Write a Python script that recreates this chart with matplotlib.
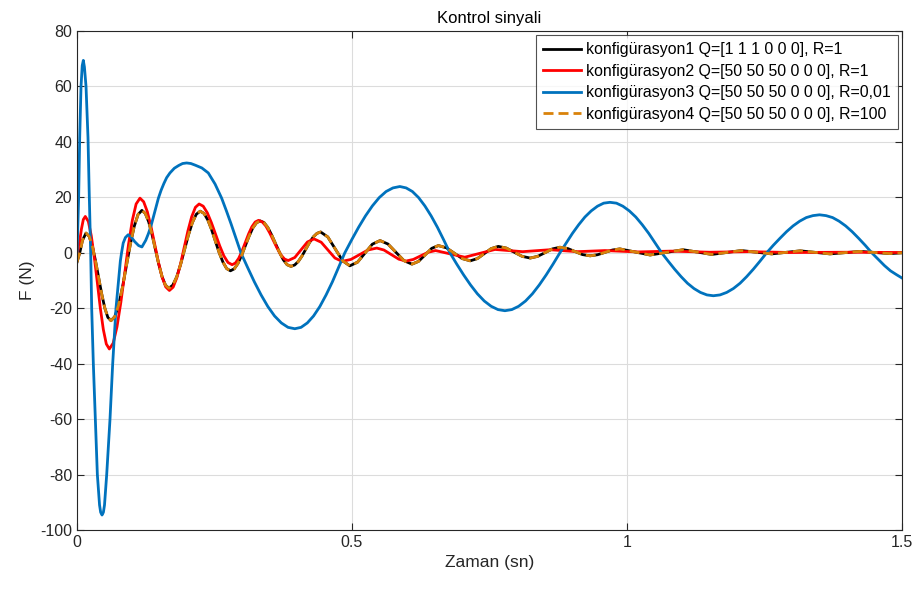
import numpy as np
import matplotlib
matplotlib.use("Agg")
import matplotlib.pyplot as plt

plt.rcParams['font.family'] = ['Liberation Sans', 'DejaVu Sans']
plt.rcParams['axes.unicode_minus'] = False

# konfigurasyon1 Q=[1 1 1 0 0 0], R=1
t1 = [0, 0.005, 0.010, 0.0164,
      0.0221, 0.0278, 0.0334, 0.0391, 0.0448, 0.0505, 0.0561, 0.0618,
      0.0688, 0.0759, 0.0829, 0.0899, 0.0969, 0.1040, 0.1110, 0.118,
      0.1241, 0.1303, 0.1364, 0.1425, 0.1486, 0.1548, 0.1609, 0.167,
      0.1741, 0.1813, 0.1884, 0.1955, 0.2026, 0.2098, 0.2169, 0.224,
      0.2309, 0.2378, 0.2446, 0.2515, 0.2584, 0.2653, 0.2721, 0.279,
      0.2858, 0.2925, 0.2993, 0.306, 0.3128, 0.3195, 0.3263, 0.333,
      0.340, 0.347, 0.354, 0.361, 0.368, 0.375, 0.382, 0.389,
      0.3958, 0.4025, 0.4093, 0.416, 0.4228, 0.4295, 0.4363, 0.443,
      0.456, 0.4695, 0.483, 0.496, 0.510, 0.5235, 0.537, 0.551,
      0.5655, 0.580, 0.5945, 0.609, 0.621, 0.633, 0.645, 0.657,
      0.6715, 0.686, 0.7005, 0.715, 0.728, 0.7405, 0.753, 0.766,
      0.7805, 0.795, 0.8095, 0.824, 0.8375, 0.851, 0.8645, 0.878,
      0.892, 0.9055, 0.919, 0.933, 0.9465, 0.960, 0.9735, 0.987,
      1.0145, 1.042, 1.072, 1.102, 1.128, 1.154, 1.181, 1.208, 1.2355,
      1.263, 1.289, 1.315, 1.342, 1.369, 1.3965, 1.424, 1.451, 1.478, 1.5]
f1 = [-3.4, 0.0, 4.5, 7.1,
      5.9, 2.5, -2.65, -8.7, -14.75, -19.9, -23.3, -24.5,
      -23.0, -18.7, -12.2, -4.6, 3.0, 9.5, 13.8, 15.3,
      14.2, 11.2, 6.6, 1.25, -4.1, -8.7, -11.7, -12.8,
      -11.7, -8.7, -4.2, 1.1, 6.4, 10.9, 13.9, 15.0,
      14.2, 11.85, 8.4, 4.25, 0.1, -3.35, -5.7, -6.5,
      -5.8, -3.9, -0.95, 2.5, 5.95, 8.9, 10.8, 11.5,
      10.9, 9.1, 6.4, 3.3, 0.2, -2.5, -4.3, -4.9,
      -4.4, -3.1, -1.1, 1.3, 3.7, 5.7, 7.0, 7.5,
      5.7, 1.4, -2.9, -4.7, -3.4, -0.15, 3.1, 4.4,
      3.15, 0.15, -2.85, -4.1, -3.1, -0.75, 1.6, 2.6,
      1.8, -0.15, -2.1, -2.9, -2.1, -0.3, 1.5, 2.3,
      1.7, 0.2, -1.3, -1.9, -1.3, 0.05, 1.4, 2.0,
      1.55, 0.45, -0.65, -1.1, -0.7, 0.15, 1.0, 1.4,
      0.3, -0.8, 0.15, 1.1, 0.25, -0.6, 0.1, 0.8, 0.2,
      -0.4, 0.15, 0.7, 0.15, -0.4, 0.05, 0.5, 0.1, -0.3, 0.0]

# konfigurasyon2 Q=[50 50 50 0 0 0], R=1
t2 = [0, 0.004, 0.008, 0.0115, 0.0151,
      0.0206, 0.0260, 0.0315, 0.0370, 0.0424, 0.0479, 0.0533, 0.0588,
      0.0658, 0.0727, 0.0797, 0.0867, 0.0936, 0.1006, 0.1075, 0.1145,
      0.1212, 0.1279, 0.1346, 0.1413, 0.1479, 0.1546, 0.1613, 0.168,
      0.1748, 0.1815, 0.1883, 0.195, 0.2018, 0.2085, 0.2153, 0.222,
      0.2295, 0.237, 0.2445, 0.252, 0.2595, 0.267, 0.2745, 0.282,
      0.288, 0.294, 0.300, 0.306, 0.312, 0.318, 0.324, 0.330,
      0.3368, 0.3435, 0.3503, 0.357, 0.3638, 0.3705, 0.3773, 0.384,
      0.396, 0.4075, 0.419, 0.431, 0.444, 0.4565, 0.469, 0.482,
      0.498, 0.5135, 0.529, 0.545, 0.558, 0.5715, 0.585, 0.598,
      0.6115, 0.625, 0.6385, 0.652, 0.6785, 0.705, 0.7325, 0.760,
      0.785, 0.810, 0.835, 0.860, 0.885, 0.910, 0.935, 0.960, 0.990,
      1.020, 1.050, 1.080, 1.150, 1.220, 1.300, 1.400, 1.500]
f2 = [-1.0, 3.0, 8.5, 12.0, 13.1,
      11.3, 6.1, -1.65, -10.8, -19.95, -27.7, -32.9, -34.7,
      -32.6, -26.7, -17.9, -7.5, 2.9, 11.7, 17.6, 19.7,
      18.4, 14.8, 9.4, 3.05, -3.3, -8.7, -12.3, -13.6,
      -12.4, -9.0, -4.0, 2.0, 8.0, 13.0, 16.4, 17.6,
      16.8, 14.4, 10.8, 6.65, 2.5, -1.1, -3.5, -4.3,
      -3.7, -2.0, 0.6, 3.7, 6.8, 9.4, 11.1, 11.7,
      11.15, 9.6, 7.2, 4.45, 1.7, -0.7, -2.25, -2.8,
      -1.7, 1.1, 3.9, 5.0, 3.8, 0.95, -1.9, -3.1,
      -2.4, -0.7, 1.0, 1.7, 1.0, -0.65, -2.3, -3.0,
      -2.4, -1.1, 0.2, 0.8, -0.4, -1.6, -0.2, 1.2,
      0.8, 0.4, 0.75, 1.1, 0.75, 0.4, 0.6, 0.8, 0.55,
      0.3, 0.45, 0.6, 0.2, 0.4, 0.1, 0.2, 0.1]

# konfigurasyon3 Q=[50 50 50 0 0 0], R=0,01
t3 = [0, 0.003, 0.0049, 0.0073, 0.0095, 0.0115, 0.0135, 0.0164, 0.020,
      0.0224, 0.0249, 0.0267, 0.0297, 0.0333, 0.037, 0.041, 0.043, 0.0455,
      0.048, 0.050, 0.054, 0.060, 0.0649, 0.0709, 0.0788, 0.081, 0.084,
      0.088, 0.093, 0.098, 0.105, 0.112, 0.118, 0.125, 0.130, 0.135,
      0.141, 0.148, 0.153, 0.158, 0.163, 0.169, 0.177, 0.185, 0.192,
      0.1994, 0.207, 0.215, 0.227, 0.2387, 0.251, 0.263, 0.2715, 0.280,
      0.289, 0.298,
      0.3102, 0.3225, 0.3347, 0.347, 0.3592, 0.3715, 0.3837, 0.396,
      0.4074, 0.4188, 0.4301, 0.4415, 0.4529, 0.4643, 0.4756, 0.487,
      0.4995, 0.512, 0.5245, 0.537, 0.5495, 0.562, 0.5745, 0.587,
      0.5984, 0.6098, 0.6211, 0.6325, 0.6439, 0.6553, 0.6666, 0.678,
      0.6905, 0.703, 0.7155, 0.728, 0.7405, 0.753, 0.7655, 0.778,
      0.7905, 0.803, 0.8155, 0.828, 0.8405, 0.853, 0.8655, 0.878,
      0.8894, 0.9008, 0.9121, 0.9235, 0.9349, 0.9463, 0.9576, 0.969,
      0.9808, 0.9925, 1.0043, 1.016, 1.0278, 1.0395, 1.0513, 1.063,
      1.0748, 1.0865, 1.0983, 1.110, 1.1218, 1.1335, 1.1453, 1.157,
      1.1691, 1.1813, 1.1934, 1.2055, 1.2176, 1.2298, 1.2419, 1.254,
      1.266, 1.278, 1.290, 1.302, 1.314, 1.326, 1.338, 1.350,
      1.3619, 1.3738, 1.3856, 1.3975, 1.4094, 1.4213, 1.4331, 1.445,
      1.457, 1.468, 1.479, 1.490, 1.500]
f3 = [-1.0, 20.0, 41.5, 60.0, 67.5, 69.4, 67.0, 60.0, 41.5,
      20.0, 0.0, -20.0, -40.0, -60.0, -80.0, -91.0, -93.6, -94.6,
      -93.6, -91.0, -80.0, -60.0, -40.0, -20.0, -3.0, 0.0, 3.5,
      5.5, 6.5, 5.8, 4.0, 2.6, 2.1, 4.5, 7.0, 10.0,
      14.5, 19.7, 22.6, 25.0, 27.1, 28.8, 30.5, 31.5, 32.2,
      32.4, 32.2, 31.6, 30.6, 28.8, 24.8, 19.7, 15.2, 10.5,
      5.3, 0.0,
      -5.3, -10.5, -15.2, -19.4, -22.8, -25.3, -26.9, -27.4,
      -26.9, -25.3, -22.8, -19.4, -15.2, -10.5, -5.3, 0.0,
      4.7, 9.2, 13.3, 16.9, 19.9, 22.1, 23.4, 23.9,
      23.4, 22.1, 19.9, 16.9, 13.3, 9.2, 4.7, 0.0,
      -4.1, -8.0, -11.6, -14.8, -17.4, -19.3, -20.5, -20.9,
      -20.5, -19.3, -17.4, -14.8, -11.6, -8.0, -4.1, 0.0,
      3.5, 7.0, 10.1, 12.9, 15.1, 16.8, 17.9, 18.2,
      17.9, 16.8, 15.1, 12.9, 10.1, 7.0, 3.5, 0.0,
      -3.0, -5.9, -8.6, -11.0, -12.9, -14.3, -15.2, -15.5,
      -15.2, -14.3, -12.9, -11.0, -8.6, -5.9, -3.0, 0.0,
      2.7, 5.2, 7.6, 9.7, 11.4, 12.7, 13.4, 13.7,
      13.4, 12.7, 11.4, 9.7, 7.6, 5.2, 2.7, 0.0,
      -2.4, -4.6, -6.5, -7.9, -9.1]

# konfigurasyon4 Q=[50 50 50 0 0 0], R=100 -> lies on top of konfigurasyon1
t4 = list(t1)
f4 = list(f1)

labels = ["konfigürasyon1 Q=[1 1 1 0 0 0], R=1",
          "konfigürasyon2 Q=[50 50 50 0 0 0], R=1",
          "konfigürasyon3 Q=[50 50 50 0 0 0], R=0,01",
          "konfigürasyon4 Q=[50 50 50 0 0 0], R=100"]

fig = plt.figure(figsize=(9.16, 5.90), dpi=100)
ax = fig.add_axes([77 / 916, 1 - 530 / 590, 825 / 916, 499 / 590])

ax.plot(t1, f1, color='black', lw=2.0, label=labels[0])
ax.plot(t2, f2, color='#ff0000', lw=2.0, label=labels[1])
ax.plot(t3, f3, color='#0072bd', lw=2.0, label=labels[2])
ax.plot(t4, f4, color='#d9820a', lw=2.0, ls=(0, (3.6, 1.8)), label=labels[3])

ax.set_xlim(0, 1.5)
ax.set_ylim(-100, 80)
ax.set_xticks([0, 0.5, 1, 1.5])
ax.set_xticklabels(['0', '0.5', '1', '1.5'])
ax.set_yticks(np.arange(-100, 81, 20))
ax.grid(True, color='#dcdcdc', lw=0.8)
ax.set_axisbelow(True)
ax.tick_params(direction='in', top=True, right=True, labelsize=11.5,
               length=5, width=0.8, colors='#262626')
for s in ax.spines.values():
    s.set_color('#262626')
    s.set_linewidth(0.8)

ax.set_title("Kontrol sinyali", fontsize=12, color='black', pad=6)
ax.set_xlabel("Zaman (sn)", fontsize=12.5, color='#262626')
ax.set_ylabel("F (N)", fontsize=12.5, color='#262626')

leg = ax.legend(loc='upper right', fontsize=11.4, frameon=True, fancybox=False,
                edgecolor='#262626', handlelength=2.4, handletextpad=0.3,
                borderpad=0.45, labelspacing=0.42, borderaxespad=0.25)
leg.get_frame().set_linewidth(0.8)

fig.savefig('out.png', dpi=100)
